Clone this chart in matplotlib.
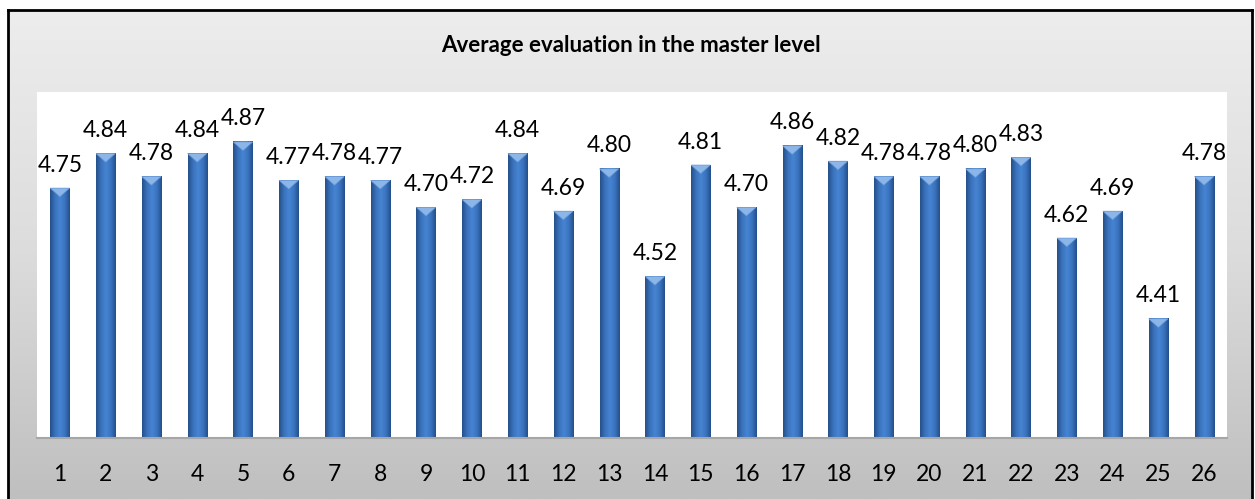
import numpy as np
import matplotlib.pyplot as plt
from matplotlib.colors import LinearSegmentedColormap
from matplotlib.patches import Polygon

plt.rcParams['font.family'] = ['Lato', 'DejaVu Sans']

# data
items = list(range(1, 27))
scores = [4.75, 4.84, 4.78, 4.84, 4.87, 4.77, 4.78, 4.77, 4.70, 4.72,
          4.84, 4.69, 4.80, 4.52, 4.81, 4.70, 4.86, 4.82, 4.78, 4.78,
          4.80, 4.83, 4.62, 4.69, 4.41, 4.78]
title = "Average evaluation in the master level"

W, H = 1255, 499
fig = plt.figure(figsize=(W / 100, H / 100), dpi=100)
fig.patch.set_facecolor('white')

# grey gradient panel with black frame
bg = fig.add_axes([8 / W, 0, (1252 - 8) / W, (H - 10) / H])
grad = np.linspace(0, 1, 256).reshape(-1, 1)
bg_cmap = LinearSegmentedColormap.from_list('bg', ['#EDEDED', '#DCDCDC', '#BFBFBF'])
bg.imshow(grad, aspect='auto', cmap=bg_cmap, extent=[0, 1, 0, 1], origin='upper')
bg.set_xticks([])
bg.set_yticks([])
for s in ['left', 'top', 'right']:
    bg.spines[s].set_color('black')
    bg.spines[s].set_linewidth(2)
bg.spines['bottom'].set_visible(False)

fig.text(631 / W, 1 - 46 / H, title, ha='center', va='center',
         fontsize=16, fontweight='bold')

ax = fig.add_axes([37 / W, (H - 438) / H, (1227 - 37) / W, (438 - 92) / H])
ax.set_facecolor('white')
ymin, ymax = 4.1, 5.0

bw = 0.42
bar_cmap = LinearSegmentedColormap.from_list(
    'bar', ['#25508A', '#3A72BC', '#4684D2', '#3B74C0', '#24508C'])
hgrad = np.linspace(0, 1, 64).reshape(1, -1)
tri_h = 0.022
for x, v in zip(items, scores):
    ax.imshow(hgrad, aspect='auto', cmap=bar_cmap,
              extent=[x - bw / 2, x + bw / 2, ymin, v], zorder=2)
    ax.add_patch(Polygon([[x - bw / 2, v], [x + bw / 2, v], [x, v - tri_h]],
                         closed=True, facecolor='#8CB6E8', edgecolor='#6FA0DD',
                         lw=0.5, zorder=3))
    ax.annotate(f"{v:.2f}", (x, v), xytext=(0, 9), textcoords='offset points',
                ha='center', va='bottom', fontsize=16.5)

ax.set_xlim(0.5, 26.5)
ax.set_ylim(ymin, ymax)
ax.set_xticks(items)
ax.set_xticklabels([str(i) for i in items], fontsize=16.5)
ax.tick_params(axis='x', length=0, pad=19)
ax.set_yticks([])
for s in ['left', 'top', 'right']:
    ax.spines[s].set_visible(False)
ax.spines['bottom'].set_color('#A6A6A6')
ax.spines['bottom'].set_linewidth(1.5)

fig.savefig('out.png', dpi=100)
